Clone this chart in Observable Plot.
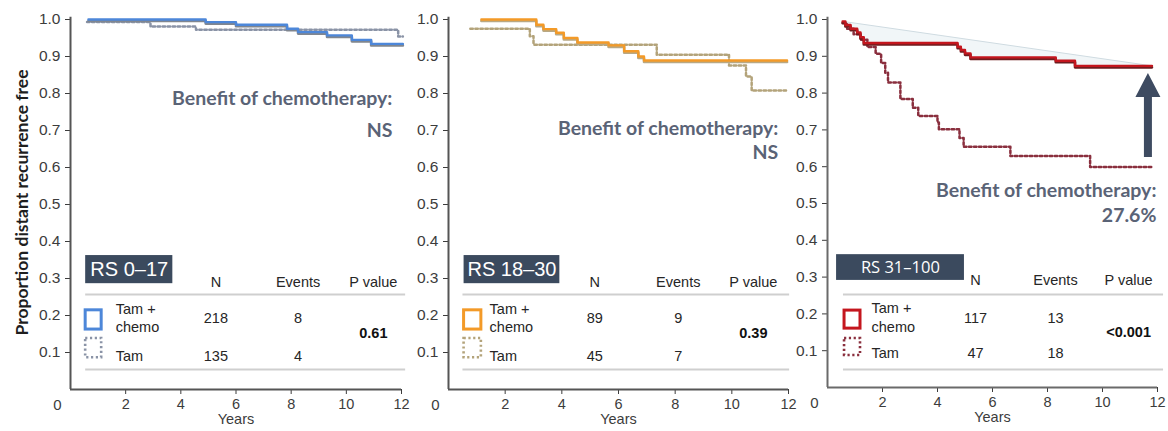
<!DOCTYPE html>
<html><head><meta charset="utf-8">
<script src="https://cdn.jsdelivr.net/npm/d3@7"></script>
<script src="https://cdn.jsdelivr.net/npm/@observablehq/plot@0.6"></script>
<style>
body{margin:0;background:#fff}
#chart{position:relative;width:1168px;height:431px;overflow:hidden;background:#fff}
#chart svg{position:absolute;top:0;overflow:visible}
#chart svg g[aria-label^="y-axis"] text{font-size:15.5px}
</style>
</head><body><div id="chart"></div>
<script>
// ---------- data ----------
const panelNames = ["RS 0–17", "RS 18–30", "RS 31–100"];
const rowLabels = ["Tam +", "chemo", "Tam"];
const columnHeaders = ["N", "Events", "P value"];
const nChemo = [218, 89, 117];
const nTam = [135, 45, 47];
const eventsChemo = [8, 9, 13];
const eventsTam = [4, 7, 18];
const pValues = ["0.61", "0.39", "<0.001"];
const benefitTitle = "Benefit of chemotherapy:";
const benefitValues = ["NS", "NS", "27.6%"];
const xTicks = [2, 4, 6, 8, 10, 12];
const yTicks = [0.1, 0.2, 0.3, 0.4, 0.5, 0.6, 0.7, 0.8, 0.9, 1.0];
const yTitle = "Proportion distant recurrence free";
const xTitle = "Years";

const chemo1Years  = [0.65, 4.9, 6.0, 7.85, 8.25, 9.3, 10.2, 10.9, 12.05];
const chemo1Values = [1.0, 0.993, 0.986, 0.975, 0.966, 0.957, 0.945, 0.934, 0.934];
const tam1Years    = [0.6, 2.9, 4.55, 11.88, 12.05];
const tam1Values   = [0.993, 0.981, 0.972, 0.954, 0.954];

const chemo2Years  = [1.16, 3.1, 3.35, 3.8, 4.07, 4.55, 5.65, 6.2, 6.7, 6.9, 11.95];
const chemo2Values = [1.0, 0.986, 0.974, 0.964, 0.95, 0.938, 0.93, 0.914, 0.9, 0.889, 0.889];
const tam2Years    = [0.77, 2.87, 3.0, 7.35, 9.9, 10.5, 10.7, 11.95];
const tam2Values   = [0.975, 0.955, 0.932, 0.905, 0.876, 0.846, 0.808, 0.808];

const chemo3Years  = [0.55, 0.65, 0.84, 1.08, 1.2, 1.32, 4.73, 4.85, 5.0, 5.2, 8.3, 9.0, 11.8];
const chemo3Values = [0.995, 0.985, 0.975, 0.965, 0.952, 0.936, 0.926, 0.917, 0.908, 0.897, 0.888, 0.874, 0.874];
const tam3Years    = [0.55, 0.7, 0.95, 1.2, 1.45, 1.75, 1.95, 2.1, 2.2, 2.65, 3.1, 3.3, 4.0, 4.05, 4.8, 4.95, 6.65, 9.55, 11.8];
const tam3Values   = [0.99, 0.975, 0.96, 0.945, 0.925, 0.907, 0.882, 0.855, 0.829, 0.784, 0.76, 0.738, 0.72, 0.702, 0.678, 0.654, 0.629, 0.599, 0.599];

// benefit annotation (panel 3): light reference line and arrow
const benefitLineYears = [0.55, 11.8];
const benefitLineValues = [0.995, 0.874];
const arrowYear = [11.67];
const arrowValues = [0.625, 0.853];

// ---------- layout ----------
const panels = [
  {left: 0, width: 410, ml: 70, mr: 9, mb: 42,
   chemoX: chemo1Years, chemoY: chemo1Values, tamX: tam1Years, tamY: tam1Values,
   chemoColor: "#4d87d9", shadow: "#80868f", tamColor: "#8a93a6", axis: "#555",
   L: {box: [0.55, 3.71, 0.286, 0.362], boxText: [2.13, 0.324], boxFont: 20, boxFamily: "Liberation Sans, Arial, sans-serif",
       colX: [5.27, 8.25, 10.98], headY: 0.289, lineX: [0.55, 12.15], lineY: [0.257, 0.054],
       icon: [0.55, 1.13], icon1Y: [0.162, 0.214], icon2Y: [0.086, 0.138], labelX: 1.64,
       tamPlusY: 0.216, chemoLY: 0.168, row1Y: 0.192, pY: 0.151, row2Y: 0.089,
       benX: 11.67, benY: [0.786, 0.70]}},
  {left: 410, width: 380, ml: 38, mr: 2, mb: 42,
   chemoX: chemo2Years, chemoY: chemo2Values, tamX: tam2Years, tamY: tam2Values,
   chemoColor: "#f39a28", shadow: "#b8a884", tamColor: "#b3a37a", axis: "#555",
   L: {box: [0.55, 3.93, 0.286, 0.362], boxText: [2.24, 0.324], boxFont: 20, boxFamily: "Liberation Sans, Arial, sans-serif",
       colX: [5.16, 8.11, 10.76], headY: 0.289, lineX: [0.51, 12.04], lineY: [0.257, 0.054],
       icon: [0.55, 1.16], icon1Y: [0.162, 0.214], icon2Y: [0.086, 0.138], labelX: 1.45,
       tamPlusY: 0.216, chemoLY: 0.168, row1Y: 0.192, pY: 0.151, row2Y: 0.089,
       benX: 11.64, benY: [0.705, 0.641]}},
  {left: 790, width: 378, ml: 37, mr: 11, mb: 44,
   chemoX: chemo3Years, chemoY: chemo3Values, tamX: tam3Years, tamY: tam3Values,
   chemoColor: "#c4161e", shadow: "#6f1c1f", tamColor: "#8a2f3e", axis: "#6a6a6a", shade: true,
   L: {box: [0.33, 4.98, 0.291, 0.361], boxText: [2.65, 0.326], boxFont: 16.5, boxFamily: "Open Sans, sans-serif",
       colX: [5.38, 8.29, 10.95], headY: 0.291, lineX: [0.58, 12.22], lineY: [0.253, 0.049],
       icon: [0.62, 1.2], icon1Y: [0.160, 0.209], icon2Y: [0.087, 0.133], labelX: 1.6,
       tamPlusY: 0.215, chemoLY: 0.163, row1Y: 0.1875, pY: 0.149, row2Y: 0.092,
       benX: 11.96, benY: [0.535, 0.467]}}
];

const tableFont = "Liberation Sans, Arial, sans-serif";
const tableColor = "#262626";
const benefitColor = "#5a6376";

function stepPoints(xs, ys) {
  const pts = [];
  for (let k = 0; k < xs.length; k++) {
    pts.push({x: xs[k], y: ys[k]});
    if (k < xs.length - 1) pts.push({x: xs[k + 1], y: ys[k]});
  }
  return pts;
}

function makePanel(i, cfg) {
  const L = cfg.L;
  const chemo = cfg.chemoX.map((x, k) => ({x, y: cfg.chemoY[k]}));
  const tam = cfg.tamX.map((x, k) => ({x, y: cfg.tamY[k]}));
  const marks = [];

  if (cfg.shade) {
    const diag = benefitLineYears.map((x, k) => ({x, y: benefitLineValues[k]}));
    const poly = diag.concat(stepPoints(cfg.chemoX, cfg.chemoY).reverse());
    marks.push(Plot.line(poly, {x: "x", y: "y", curve: "linear-closed", fill: "#f1f6f8", stroke: "none"}));
    marks.push(Plot.line(diag, {x: "x", y: "y", stroke: "#cfdbe1", strokeWidth: 1}));
  }

  // axes lines
  marks.push(Plot.ruleX([0], {y1: 0, y2: 1.006, stroke: cfg.axis, strokeWidth: 2}));
  marks.push(Plot.ruleY([0], {x1: 0, x2: 12, stroke: cfg.axis, strokeWidth: 2}));
  marks.push(Plot.text(["0"], {x: 0, y: 0, dx: -13, dy: 16, fontSize: 15, fill: "#3c3c3c"}));
  marks.push(Plot.text([xTitle], {frameAnchor: "bottom", dy: 34, fontSize: 14.5, fill: "#3c3c3c"}));
  if (i === 0) {
    marks.push(Plot.text([yTitle], {frameAnchor: "left", textAnchor: "middle", rotate: -90, dx: -48, dy: -2,
      fontSize: 17.5, fontWeight: "bold", fontFamily: "Lato, sans-serif", fill: "#1e1e1e"}));
  }

  // survival curves
  marks.push(Plot.line(tam, {x: "x", y: "y", curve: "step-after", stroke: cfg.tamColor,
    strokeWidth: 2.5, strokeDasharray: "2.5,2.5"}));
  marks.push(Plot.line(chemo, {x: "x", y: "y", curve: "step-after", stroke: cfg.shadow, strokeWidth: 2.6, dy: 1.5}));
  marks.push(Plot.line(chemo, {x: "x", y: "y", curve: "step-after", stroke: cfg.chemoColor, strokeWidth: 2.4}));

  // arrow (panel 3)
  if (cfg.shade) {
    marks.push((index, scales) => {
      const ns = "http://www.w3.org/2000/svg";
      const g = document.createElementNS(ns, "g");
      const x = scales.x(arrowYear[0]), yb = scales.y(arrowValues[0]), yt = scales.y(arrowValues[1]);
      const headH = 24, headW = 25, shaftW = 8;
      const p = document.createElementNS(ns, "path");
      p.setAttribute("d", `M${x - shaftW / 2},${yb}V${yt + headH}H${x - headW / 2}L${x},${yt}L${x + headW / 2},${yt + headH}H${x + shaftW / 2}V${yb}Z`);
      p.setAttribute("fill", "#3e4b61");
      g.appendChild(p);
      return g;
    });
  }

  // benefit text
  marks.push(Plot.text([benefitTitle], {x: L.benX, y: L.benY[0], textAnchor: "end", fontSize: 19.5,
    fontWeight: "bold", fontFamily: "Lato, sans-serif", fill: benefitColor}));
  marks.push(Plot.text([benefitValues[i]], {x: L.benX, y: L.benY[1], textAnchor: "end", fontSize: 19.5,
    fontWeight: "bold", fontFamily: "Lato, sans-serif", fill: benefitColor}));

  // table
  marks.push(Plot.rect([{x1: L.box[0], x2: L.box[1], y1: L.box[2], y2: L.box[3]}],
    {x1: "x1", x2: "x2", y1: "y1", y2: "y2", fill: "#3b4a5e"}));
  marks.push(Plot.text([panelNames[i]], {x: L.boxText[0], y: L.boxText[1], fill: "white",
    fontSize: L.boxFont, fontFamily: L.boxFamily}));
  marks.push(Plot.text(columnHeaders, {x: (d, k) => L.colX[k], y: L.headY, fontSize: 14.5,
    fontFamily: tableFont, fill: tableColor}));
  marks.push(Plot.ruleY(L.lineY, {x1: L.lineX[0], x2: L.lineX[1], stroke: "#cfcfcf", strokeWidth: 2}));
  marks.push(Plot.rect([{x1: L.icon[0], x2: L.icon[1], y1: L.icon1Y[0], y2: L.icon1Y[1]}],
    {x1: "x1", x2: "x2", y1: "y1", y2: "y2", fill: "white", stroke: cfg.chemoColor, strokeWidth: 3}));
  marks.push(Plot.rect([{x1: L.icon[0], x2: L.icon[1], y1: L.icon2Y[0], y2: L.icon2Y[1]}],
    {x1: "x1", x2: "x2", y1: "y1", y2: "y2", fill: "white", stroke: cfg.tamColor, strokeWidth: 2.6, strokeDasharray: "2.2,2.6"}));
  const rowY = [L.tamPlusY, L.chemoLY, L.row2Y];
  marks.push(Plot.text(rowLabels, {x: L.labelX, y: (d, k) => rowY[k], textAnchor: "start",
    fontSize: 14.5, fontFamily: tableFont, fill: tableColor}));
  marks.push(Plot.text([nChemo[i], eventsChemo[i]], {x: (d, k) => L.colX[k], y: L.row1Y,
    fontSize: 14.5, fontFamily: tableFont, fill: tableColor}));
  marks.push(Plot.text([nTam[i], eventsTam[i]], {x: (d, k) => L.colX[k], y: L.row2Y,
    fontSize: 14.5, fontFamily: tableFont, fill: tableColor}));
  marks.push(Plot.text([pValues[i]], {x: L.colX[2], y: L.pY, fontSize: 14.5, fontWeight: "bold",
    fontFamily: tableFont, fill: "#111"}));

  const svg = Plot.plot({
    width: cfg.width, height: 431,
    marginTop: 19, marginBottom: cfg.mb, marginLeft: cfg.ml, marginRight: cfg.mr,
    style: {fontFamily: "Liberation Sans, Arial, sans-serif", fontSize: "14.5px", color: "#3c3c3c", background: "transparent", overflow: "visible"},
    x: {domain: [0, 12], ticks: xTicks, tickSize: 5, tickPadding: 4, label: null},
    y: {domain: [0, 1], ticks: yTicks, tickSize: 5, tickPadding: 5, tickFormat: d => d.toFixed(1), label: null},
    marks
  });
  svg.style.left = cfg.left + "px";
  return svg;
}

const root = document.getElementById("chart");
panels.forEach((cfg, i) => root.appendChild(makePanel(i, cfg)));
</script></body></html>
